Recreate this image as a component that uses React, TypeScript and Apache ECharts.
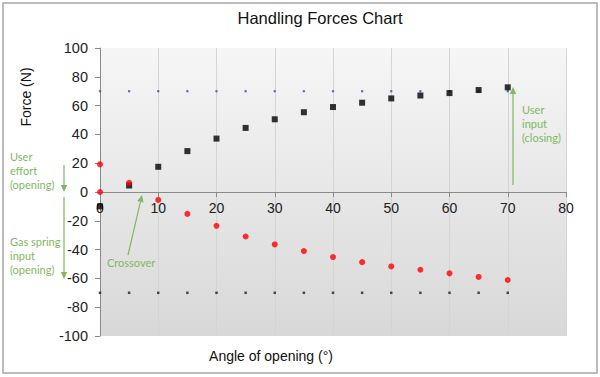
import React, { useEffect, useRef } from "react";
import * as echarts from "echarts";

const angles = [0, 5, 10, 15, 20, 25, 30, 35, 40, 45, 50, 55, 60, 65, 70];
const closingForce = [-10, 4.5, 17.5, 28.4, 37.1, 44.5, 50.5, 55.4, 59, 62, 65, 67, 68.7, 70.8, 72.7];
const openingForce = [19.2, 6.4, -5.5, -15.2, -23.5, -30.9, -36.4, -41, -45.2, -48.7, -51.7, -54, -56.5, -59, -61.1];
const openingExtra: [number, number][] = [[0, 0]];
const upperLimit = angles.map(() => 70);
const lowerLimit = angles.map(() => -70);
const xTicks = { min: 0, max: 80, interval: 10 };
const yTicks = { min: -100, max: 100, interval: 20 };

const GREEN = "#7fb85e";
const LABEL_FONT = "Liberation Sans, Arial, sans-serif";
const NOTE_FONT = "Lato, sans-serif";

const GRID_TOP = 48;
const GRID_BOTTOM = 41;
const CHART_H = 377;

function arrow(x1: number, y1: number, x2: number, y2: number): any[] {
  const dx = x2 - x1;
  const dy = y2 - y1;
  const len = Math.sqrt(dx * dx + dy * dy);
  const ux = dx / len;
  const uy = dy / len;
  const h = 7;
  const w = 3.2;
  const bx = x2 - ux * h;
  const by = y2 - uy * h;
  return [
    {
      type: "line",
      shape: { x1, y1, x2: bx, y2: by },
      style: { stroke: GREEN, lineWidth: 1.2 },
      silent: true,
    },
    {
      type: "polygon",
      shape: {
        points: [
          [x2, y2],
          [bx - uy * w, by + ux * w],
          [bx + uy * w, by - ux * w],
        ],
      },
      style: { fill: GREEN },
      silent: true,
    },
  ];
}

function noteLines(x: number, y0: number, lines: string[]): any[] {
  return lines.map((t, i) => ({
    type: "text",
    x,
    y: y0 + i * 14,
    style: {
      text: t,
      fill: GREEN,
      font: `11px ${NOTE_FONT}`,
      textAlign: "left",
      textVerticalAlign: "middle",
    },
    silent: true,
  }));
}

export default function App() {
  const ref = useRef<HTMLDivElement>(null);
  useEffect(() => {
    document.body.style.margin = "0";
    if (!ref.current) return;
    const chart = echarts.init(ref.current, null, { renderer: "svg" });
    const plotH = CHART_H - GRID_TOP - GRID_BOTTOM;
    // place the x axis where y = 0 lies
    const zeroOffset = -plotH * ((0 - yTicks.min) / (yTicks.max - yTicks.min));
    const option: any = {
      animation: false,
      backgroundColor: "#ffffff",
      title: {
        text: "Handling Forces Chart",
        left: 320,
        textAlign: "center",
        top: 9,
        padding: 0,
        textStyle: { fontSize: 16.5, fontWeight: "normal", color: "#111", fontFamily: LABEL_FONT },
      },
      grid: {
        left: 100,
        right: 34,
        top: GRID_TOP,
        bottom: GRID_BOTTOM,
        show: true,
        borderWidth: 0,
        backgroundColor: new echarts.graphic.LinearGradient(0, 0, 0, 1, [
          { offset: 0, color: "#f6f6f6" },
          { offset: 1, color: "#d8d8d8" },
        ]),
      },
      xAxis: {
        type: "value",
        position: "bottom",
        offset: zeroOffset,
        min: xTicks.min,
        max: xTicks.max,
        interval: xTicks.interval,
        axisLine: { show: true, onZero: false, lineStyle: { color: "#8a8a8a", width: 1 } },
        axisTick: { show: true, length: 5, lineStyle: { color: "#8a8a8a" } },
        axisLabel: { color: "#222", fontSize: 14, fontFamily: LABEL_FONT, margin: 9 },
        splitLine: { show: true, lineStyle: { color: "#d4d4d4", width: 1 } },
      },
      yAxis: {
        type: "value",
        min: yTicks.min,
        max: yTicks.max,
        interval: yTicks.interval,
        axisLine: { show: true, onZero: false, lineStyle: { color: "#8a8a8a", width: 1 } },
        axisTick: { show: true, length: 5, lineStyle: { color: "#8a8a8a" } },
        axisLabel: { color: "#222", fontSize: 14.5, fontFamily: LABEL_FONT, margin: 12 },
        splitLine: { show: false },
      },
      series: [
        {
          type: "scatter",
          data: angles.map((a, i) => [a, upperLimit[i]]),
          symbol: "circle",
          symbolSize: 2.5,
          itemStyle: { color: "#4a4ab8" },
        },
        {
          type: "scatter",
          data: angles.map((a, i) => [a, lowerLimit[i]]),
          symbol: "rect",
          symbolSize: 2.5,
          itemStyle: { color: "#222" },
        },
        {
          type: "scatter",
          data: angles.map((a, i) => [a, closingForce[i]]),
          symbol: "rect",
          symbolSize: 6,
          itemStyle: { color: "#000" },
        },
        {
          type: "scatter",
          data: angles.map((a, i) => [a, openingForce[i]]).concat(openingExtra),
          symbol: "circle",
          symbolSize: 6,
          itemStyle: { color: "#ff0000" },
        },
      ],
      graphic: [
        {
          type: "rect",
          shape: { x: 3, y: 3, width: 594, height: 370 },
          style: { fill: "none", stroke: "#a6a6a6", lineWidth: 1.5 },
          silent: true,
        },
        {
          type: "text",
          x: 26,
          y: 97,
          rotation: Math.PI / 2,
          style: {
            text: "Force (N)",
            fill: "#111",
            font: `14px ${LABEL_FONT}`,
            textAlign: "center",
            textVerticalAlign: "middle",
          },
        },
        {
          type: "text",
          x: 271,
          y: 356,
          style: {
            text: "Angle of opening (°)",
            fill: "#111",
            font: `14px ${LABEL_FONT}`,
            textAlign: "center",
            textVerticalAlign: "middle",
          },
        },
        ...noteLines(10, 156, ["User", "effort", "(opening)"]),
        ...noteLines(10, 241, ["Gas spring", "input", "(opening)"]),
        ...noteLines(522, 109, ["User", "input", "(closing)"]),
        ...noteLines(107, 262, ["Crossover"]),
        ...arrow(64, 165, 64, 192),
        ...arrow(64, 197, 64, 279),
        ...arrow(513, 185, 513, 87),
        ...arrow(128, 255, 142, 195),
      ],
    };
    chart.setOption(option);
    return () => chart.dispose();
  }, []);
  return <div ref={ref} style={{ width: 600, height: 377 }} />;
}
